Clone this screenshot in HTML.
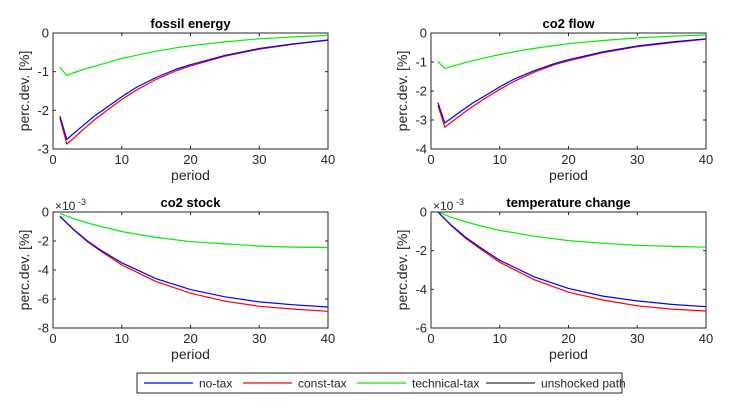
<!DOCTYPE html>
<html><head><meta charset="utf-8"><style>
body{margin:0;background:#fff;width:747px;height:405px;overflow:hidden}
svg{font-family:"Liberation Sans",sans-serif}
</style></head><body>
<svg id="c" width="747" height="405"></svg>
<script>
const periods=[1,2,3,4,5,6,8,10,12,15,18,20,25,30,35,40];
const fossilNoTax=[-2.15,-2.75,-2.6,-2.45,-2.3,-2.15,-1.9,-1.65,-1.42,-1.15,-0.93,-0.82,-0.58,-0.4,-0.28,-0.18];
const fossilConst=[-2.2,-2.87,-2.72,-2.56,-2.4,-2.25,-1.98,-1.72,-1.49,-1.2,-0.97,-0.85,-0.6,-0.42,-0.29,-0.19];
const fossilTech=[-0.88,-1.1,-1.03,-0.97,-0.91,-0.86,-0.76,-0.66,-0.58,-0.47,-0.38,-0.33,-0.23,-0.15,-0.1,-0.06];
const flowNoTax=[-2.4,-3.1,-2.93,-2.76,-2.59,-2.42,-2.14,-1.86,-1.6,-1.3,-1.05,-0.92,-0.65,-0.45,-0.31,-0.2];
const flowConst=[-2.5,-3.25,-3.07,-2.89,-2.71,-2.54,-2.23,-1.94,-1.68,-1.35,-1.09,-0.96,-0.68,-0.47,-0.33,-0.21];
const flowTech=[-0.98,-1.22,-1.15,-1.09,-1.02,-0.96,-0.85,-0.74,-0.65,-0.53,-0.43,-0.37,-0.26,-0.17,-0.11,-0.07];
const stockPeriods=[1,3,5,7,10,15,20,25,30,35,40];
const stockNoTax=[-0.3,-1.2,-2.0,-2.65,-3.5,-4.6,-5.35,-5.85,-6.2,-6.4,-6.55];
const stockConst=[-0.3,-1.23,-2.05,-2.72,-3.65,-4.8,-5.6,-6.15,-6.5,-6.7,-6.85];
const stockTech=[-0.1,-0.45,-0.75,-1.0,-1.35,-1.75,-2.05,-2.2,-2.35,-2.42,-2.45];
const tempPeriods=[1,3,5,7,10,15,20,25,30,35,40];
const tempNoTax=[0,-0.7,-1.3,-1.8,-2.5,-3.35,-3.95,-4.35,-4.6,-4.78,-4.9];
const tempConst=[0,-0.72,-1.35,-1.86,-2.6,-3.5,-4.15,-4.55,-4.85,-5.02,-5.12];
const tempTech=[0,-0.28,-0.5,-0.7,-0.95,-1.25,-1.48,-1.62,-1.72,-1.78,-1.82];
const xTicks=[0,10,20,30,40];
const legendLabels=["no-tax","const-tax","technical-tax","unshocked path"];
const colors=["#0000ff","#ff0000","#00ee00","#333333"];

const NS="http://www.w3.org/2000/svg";
const svg=document.getElementById('c');
function mk(t,a,p){const e=document.createElementNS(NS,t);for(const k in a)e.setAttribute(k,a[k]);(p||svg).appendChild(e);return e;}

const panels=[
 {name:"fossil-energy",title:"fossil energy",x0:53,y0:33,ymin:-3,yticks:[0,-1,-2,-3],px:periods,s:[fossilNoTax,fossilConst,fossilTech],exp:false},
 {name:"co2-flow",title:"co2 flow",x0:431,y0:33,ymin:-4,yticks:[0,-1,-2,-3,-4],px:periods,s:[flowNoTax,flowConst,flowTech],exp:false},
 {name:"co2-stock",title:"co2 stock",x0:53,y0:212,ymin:-8,yticks:[0,-2,-4,-6,-8],px:stockPeriods,s:[stockNoTax,stockConst,stockTech],exp:true},
 {name:"temperature-change",title:"temperature change",x0:431,y0:212,ymin:-6,yticks:[0,-2,-4,-6],px:tempPeriods,s:[tempNoTax,tempConst,tempTech],exp:true}
];
const W=275,H=116;
panels.forEach(p=>{
 const g=mk('g',{});
 
 
 const xs=v=>p.x0+v/40*W, ys=v=>p.y0+(v/p.ymin)*H;
 mk('rect',{x:p.x0,y:p.y0,width:W,height:H,fill:'#fff',stroke:'#262626','stroke-width':1},g);
 xTicks.forEach(t=>{
  mk('line',{x1:xs(t),x2:xs(t),y1:p.y0+H,y2:p.y0+H-3,stroke:'#262626'},g);
  mk('line',{x1:xs(t),x2:xs(t),y1:p.y0,y2:p.y0+3,stroke:'#262626'},g);
  const tx=mk('text',{x:xs(t),y:p.y0+H+15,'text-anchor':'middle','font-size':13,fill:'#262626'},g);tx.textContent=t;
 });
 p.yticks.forEach(t=>{
  mk('line',{x1:p.x0,x2:p.x0+3,y1:ys(t),y2:ys(t),stroke:'#262626'},g);
  mk('line',{x1:p.x0+W,x2:p.x0+W-3,y1:ys(t),y2:ys(t),stroke:'#262626'},g);
  const tx=mk('text',{x:p.x0-4,y:ys(t)+4.5,'text-anchor':'end','font-size':13,fill:'#262626'},g);tx.textContent=t;
 });
 const ti=mk('text',{x:p.x0+W/2,y:p.y0-5,'text-anchor':'middle','font-size':13,'font-weight':'bold',fill:'#000'},g);ti.textContent=p.title;
 
 const xl=mk('text',{x:p.x0+W/2,y:p.y0+H+31,'text-anchor':'middle','font-size':14,fill:'#262626'},g);xl.textContent='period';
 
 const yl=mk('text',{x:0,y:0,'text-anchor':'middle','font-size':14,fill:'#262626',transform:`translate(${p.x0-24},${p.y0+H/2}) rotate(-90)`},g);yl.textContent='perc.dev. [%]';
 
 if(p.exp){const ex=mk('text',{x:p.x0+2,y:p.y0-2,'font-size':12,fill:'#262626'},g);ex.textContent='×10';
  const e2=mk('text',{x:p.x0+25,y:p.y0-7,'font-size':9,fill:'#262626'},g);e2.textContent='-3';}
 [2,1,0].forEach(i=>{
  const d=p.s[i].map((v,j)=>(j?'L':'M')+xs(p.px[j]).toFixed(1)+','+ys(v).toFixed(1)).join('');
  const l=mk('path',{d:d,fill:'none',stroke:colors[i],'stroke-width':1.2},g);
  
  
 });
});
const lg=mk('g',{});


mk('rect',{x:137,y:373,width:485,height:20,fill:'#fff',stroke:'#262626'},lg);
const lx=[144,243,357,486];
legendLabels.forEach((s,i)=>{
 mk('line',{x1:lx[i],x2:lx[i]+49,y1:383,y2:383,stroke:colors[i],'stroke-width':1.2},lg);
 const t=mk('text',{x:lx[i]+55,y:387.5,'font-size':12,fill:'#262626'},lg);t.textContent=s;
 
});
</script>
</body></html>
